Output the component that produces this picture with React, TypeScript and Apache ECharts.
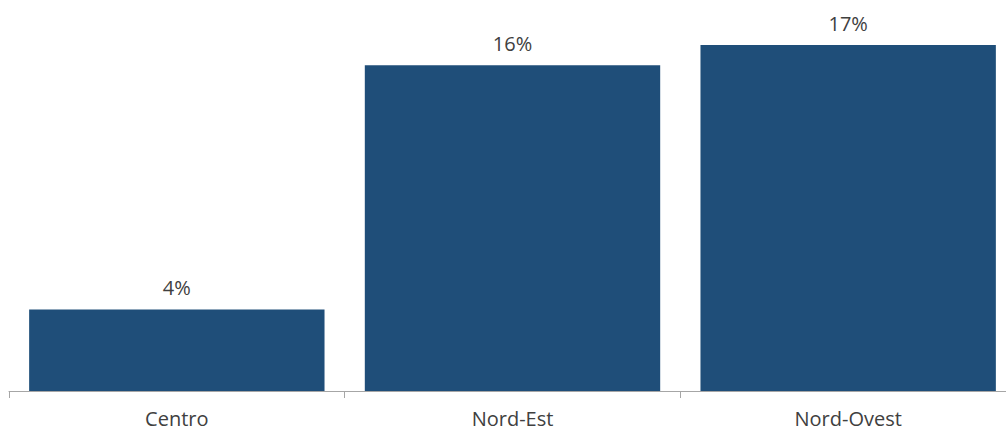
import React, { useEffect, useRef } from "react";
import * as echarts from "echarts";

const regions = ["Centro", "Nord-Est", "Nord-Ovest"];
const shares = [4, 16, 17];

const BAR_COLOR = "#1F4E79";
const TEXT_COLOR = "#404040";
const AXIS_COLOR = "#A6A6A6";
const FONT = "'Open Sans', 'DejaVu Sans', sans-serif";

export default function App() {
  const ref = useRef<HTMLDivElement>(null);

  useEffect(() => {
    if (!ref.current) return;
    const chart = echarts.init(ref.current, undefined, { renderer: "svg" });
    chart.setOption({
      animation: false,
      backgroundColor: "#ffffff",
      grid: {
        left: 9,
        top: 45,
        right: -10,
        bottom: 41,
        containLabel: false,
        outerBoundsMode: "none",
      },
      xAxis: {
        type: "category",
        data: regions,
        axisLine: { show: true, lineStyle: { color: AXIS_COLOR, width: 1 } },
        axisTick: { show: true, length: 7, lineStyle: { color: AXIS_COLOR } },
        axisLabel: {
          color: TEXT_COLOR,
          fontFamily: FONT,
          fontSize: 20,
          margin: 17,
        },
      },
      yAxis: {
        type: "value",
        min: 0,
        max: 17,
        show: false,
        splitLine: { show: false },
      },
      series: [
        {
          type: "bar",
          data: shares,
          barCategoryGap: "12%",
          itemStyle: { color: BAR_COLOR },
          label: {
            show: true,
            position: "top",
            distance: 12,
            color: TEXT_COLOR,
            fontFamily: FONT,
            fontSize: 20,
            formatter: (p: any) => `${p.value}%`,
          },
        },
      ],
    });
    return () => chart.dispose();
  }, []);

  return (
    <div
      ref={ref}
      style={{ position: "fixed", left: 0, top: 0, width: 1006, height: 432 }}
    />
  );
}
